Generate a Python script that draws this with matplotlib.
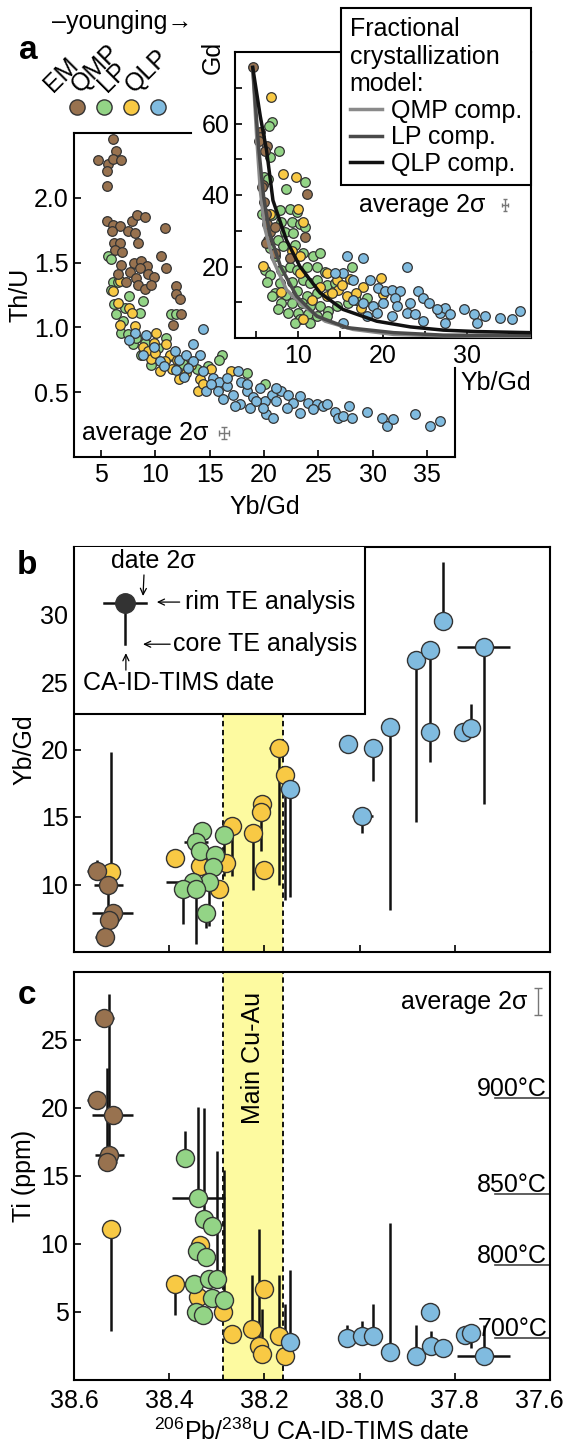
import numpy as np
import matplotlib
matplotlib.use('Agg')
import matplotlib.pyplot as plt
from matplotlib.patches import Rectangle
from matplotlib.transforms import ScaledTranslation

plt.rcParams['font.family'] = ['Liberation Sans', 'DejaVu Sans']
plt.rcParams['mathtext.fontset'] = 'custom'
plt.rcParams['mathtext.rm'] = 'Liberation Sans'
plt.rcParams['font.size'] = 18

colors = {'EM': '#98724f', 'QMP': '#93d486', 'LP': '#f8c944', 'QLP': '#80bbdf'}
groups = ['EM', 'QMP', 'LP', 'QLP']

# ---- panel a, main: (Yb/Gd, Th/U) ----
em_main = [(6.1, 2.45), (6.4, 2.36), (4.7, 2.29), (5.6, 2.26), (6.1, 2.30), (6.85, 2.29), (5.5, 2.21),
           (5.55, 2.09), (5.5, 1.82), (6.1, 1.79), (6.7, 1.78), (6.0, 1.74), (7.45, 1.74), (7.8, 1.82),
           (8.3, 1.87), (9.0, 1.85), (10.85, 1.77), (8.15, 1.73), (6.2, 1.65), (6.7, 1.65), (8.4, 1.65),
           (6.3, 1.60), (6.95, 1.58), (6.85, 1.48), (6.55, 1.41), (8.0, 1.50), (8.7, 1.51), (9.2, 1.47),
           (8.55, 1.46), (7.7, 1.43), (8.25, 1.38), (9.3, 1.41), (9.9, 1.39), (8.4, 1.33), (9.0, 1.30),
           (9.6, 1.33), (10.55, 1.55), (11.0, 1.46), (11.9, 1.32), (11.9, 1.26), (12.3, 1.22),
           (12.4, 1.10), (11.6, 1.02), (7.3, 1.35)]
qmp_main = [(5.6, 1.55), (5.9, 1.53), (6.1, 1.35), (5.9, 1.29), (6.55, 1.35), (7.6, 1.24), (8.85, 1.20),
            (6.4, 1.10), (6.85, 0.96), (8.55, 1.11), (11.4, 1.10), (11.9, 1.10), (7.9, 0.87), (8.7, 0.79),
            (9.6, 0.71), (11.0, 0.92), (16.1, 0.79), (15.9, 0.75), (18.4, 0.65), (20.1, 0.56),
            (14.85, 0.70), (11.3, 0.78), (7.0, 1.05), (7.5, 0.95), (8.2, 0.92), (9.0, 0.88),
            (10.2, 0.84), (12.5, 0.72), (13.8, 0.68), (6.2, 1.18), (7.2, 1.15)]
lp_main = [(6.7, 1.36), (6.1, 1.28), (6.55, 1.19), (7.6, 1.15), (7.8, 1.11), (6.7, 1.02), (8.1, 1.01),
           (10.1, 0.96), (8.85, 0.85), (9.3, 0.82), (11.0, 0.87), (11.3, 0.79), (10.85, 0.74),
           (10.4, 0.66), (12.2, 0.60), (13.3, 0.71), (14.1, 0.60), (13.9, 0.51), (14.4, 0.56),
           (17.0, 0.66), (15.15, 0.68), (12.85, 0.65), (9.6, 0.76), (10.0, 0.80), (12.0, 0.75),
           (11.5, 0.68), (9.9, 0.88)]
qlp_main = [(8.1, 0.96), (9.15, 0.94), (8.85, 0.79), (9.9, 0.85), (10.4, 0.74), (11.8, 0.82), (12.2, 0.75),
            (12.85, 0.79), (13.45, 0.87), (14.1, 0.79), (14.4, 0.99), (13.45, 0.74), (13.0, 0.69),
            (14.4, 0.66), (11.9, 0.67), (15.3, 0.61), (14.7, 0.51), (15.9, 0.58), (16.55, 0.55),
            (17.15, 0.48), (17.6, 0.66), (17.9, 0.58), (18.4, 0.51), (19.0, 0.46), (19.6, 0.53),
            (20.1, 0.43), (20.7, 0.48), (21.15, 0.43), (21.6, 0.51), (22.2, 0.48), (22.7, 0.42),
            (20.2, 0.33), (20.85, 0.30), (19.9, 0.38), (18.7, 0.38), (17.8, 0.41), (17.3, 0.39),
            (23.3, 0.47), (24.1, 0.42), (24.85, 0.41), (25.45, 0.39), (23.3, 0.34), (24.5, 0.37),
            (25.8, 0.41), (26.5, 0.35), (26.85, 0.30), (27.3, 0.32), (27.8, 0.39), (28.1, 0.30),
            (29.5, 0.35), (30.85, 0.30), (31.3, 0.24), (31.9, 0.29), (33.9, 0.33), (35.3, 0.24),
            (36.2, 0.28), (15.8, 0.51), (15.15, 0.56), (16.55, 0.61), (18.4, 0.56), (21.15, 0.53),
            (19.3, 0.43), (22.1, 0.38), (7.6, 0.90), (10.8, 0.70), (12.6, 0.62), (16.2, 0.45)]

# ---- panel a, inset: (Yb/Gd, Gd) ----
em_inset = [(4.6, 75.7), (5.45, 57.5), (5.45, 56.1), (5.4, 55.2), (6.25, 53.8), (6.05, 52.4), (5.85, 42.7),
            (5.65, 42.2), (5.95, 38.1), (6.15, 34.8), (6.25, 32.0), (6.65, 29.7), (6.45, 27.4),
            (6.15, 26.5), (7.2, 31.1), (11.0, 40.4), (10.8, 28.3), (9.0, 22.3), (7.2, 23.7)]
qmp_inset = [(6.85, 60.3), (6.55, 59.4), (6.65, 50.6), (7.75, 52.4), (5.9, 45.0), (5.85, 43.1), (6.45, 44.5),
             (8.6, 41.8), (10.8, 43.6), (5.65, 34.8), (6.85, 34.4), (7.8, 35.7), (9.0, 36.2), (9.8, 35.3),
             (8.0, 32.5), (9.2, 32.5), (10.2, 32.0), (10.8, 31.1), (8.4, 29.7), (9.4, 29.3), (7.6, 27.4),
             (6.65, 25.1), (8.2, 25.6), (9.6, 26.0), (7.2, 22.8), (10.6, 23.7), (11.8, 22.8), (12.6, 23.7),
             (6.05, 19.1), (6.65, 17.7), (8.0, 19.1), (9.0, 20.0), (9.8, 19.1), (11.0, 20.0), (12.2, 20.0),
             (13.2, 18.6), (6.25, 15.8), (7.8, 15.4), (9.2, 15.8), (10.6, 16.3), (11.4, 15.4), (12.2, 16.3),
             (13.4, 14.9), (14.35, 15.4), (7.2, 12.6), (8.6, 12.1), (9.8, 13.1), (11.0, 11.7), (12.2, 12.6),
             (8.0, 9.8), (9.2, 9.8), (10.4, 9.8), (11.4, 8.9), (12.6, 8.9), (13.55, 7.5), (8.8, 7.0),
             (10.0, 7.0), (11.2, 6.6), (12.2, 6.1), (13.4, 6.1), (14.55, 8.9), (15.95, 9.8), (16.9, 10.7),
             (18.1, 11.2), (16.35, 20.0), (7.6, 8.0), (6.85, 11.7), (10.2, 5.2), (11.4, 4.3), (9.6, 4.3)]
lp_inset = [(6.75, 67.4), (8.2, 45.9), (9.7, 45.0), (6.65, 34.8), (10.0, 36.2), (10.6, 32.5), (9.2, 24.2),
            (5.85, 20.2), (10.2, 22.8), (8.0, 12.9), (10.2, 18.1), (13.4, 18.1), (14.55, 16.3),
            (16.15, 16.5), (17.7, 14.4), (19.8, 16.8), (20.1, 12.4), (14.75, 13.5), (15.75, 11.7),
            (17.5, 8.4), (16.9, 12.6), (13.4, 11.7), (11.6, 10.7), (10.6, 5.2), (13.95, 12.6),
            (15.15, 14.9), (12.6, 14.4)]
qlp_inset = [(15.75, 22.8), (17.7, 22.3), (22.9, 20.0), (15.35, 18.1), (16.55, 16.3), (18.5, 16.3),
             (19.5, 14.0), (20.3, 13.1), (21.1, 13.5), (22.1, 13.1), (24.25, 13.1), (24.85, 11.2),
             (25.45, 9.8), (23.3, 9.8), (21.5, 11.2), (20.1, 9.8), (18.9, 8.9), (19.3, 7.0), (21.1, 6.1),
             (22.9, 7.0), (23.85, 6.6), (24.85, 4.7), (26.8, 7.0), (27.4, 8.4), (28.0, 6.6), (29.6, 8.0),
             (30.8, 6.6), (31.2, 4.3), (32.2, 6.1), (33.95, 5.6), (35.35, 5.2), (36.35, 7.5), (27.4, 4.3),
             (15.35, 4.3), (16.55, 10.7), (17.7, 9.8), (14.35, 18.1), (18.1, 6.1), (26.4, 8.0), (21.7, 8.9)]

# fractional crystallization model curves
qmp_curve_x = [4.6, 5.1, 5.5, 6.0, 7.0, 8.6, 10.6, 13.2, 16.5, 21.3, 27.2, 37.5]
qmp_curve_gd = [75.7, 55.2, 41.3, 31.1, 21.9, 13.5, 8.9, 4.7, 2.4, 1.0, 0.6, 0.4]
lp_curve_x = [4.6, 5.3, 5.9, 6.6, 7.9, 9.8, 12.2, 15.8, 21.3, 27.2, 37.5]
lp_curve_gd = [75.7, 53.3, 39.4, 29.3, 20.0, 11.7, 6.1, 2.9, 1.5, 0.8, 0.7]
qlp_curve_x = [4.6, 5.5, 6.25, 7.0, 8.6, 10.2, 12.6, 15.3, 19.3, 23.3, 27.2, 31.2, 37.5]
qlp_curve_gd = [75.7, 62.0, 52.4, 38.5, 27.4, 20.0, 12.6, 8.0, 4.7, 3.1, 2.2, 1.8, 1.5]

# ---- panel b: CA-ID-TIMS date vs Yb/Gd (rim dot, core line end) ----
nan = np.nan
b_date = [38.552, 38.528, 38.519, 38.526, 38.535,
          38.522, 38.388, 38.336, 38.295, 38.281, 38.269, 38.225, 38.204, 38.208, 38.201, 38.170, 38.156,
          38.332, 38.344, 38.335, 38.304, 38.285, 38.307, 38.316, 38.350, 38.370, 38.343, 38.322,
          38.147, 38.024, 37.994, 37.972, 37.937, 37.881, 37.853, 37.853, 37.825, 37.782, 37.766, 37.739]
b_rim = [11.0, 9.95, 7.86, 7.4, 6.08,
         10.9, 12.0, 11.4, 9.7, 11.6, 14.3, 13.8, 16.0, 15.4, 11.05, 20.1, 18.1,
         14.0, 13.15, 12.5, 12.2, 13.65, 11.3, 10.2, 10.2, 9.7, 9.7, 7.9,
         17.1, 20.4, 15.05, 20.1, 21.7, 26.65, 27.4, 21.3, 29.5, 21.3, 21.6, 27.6]
b_core = [11.8, 7.5, nan, nan, nan,
          19.8, nan, nan, nan, nan, 10.6, 9.6, nan, 12.5, nan, 9.95, 8.85,
          nan, nan, nan, nan, 10.6, nan, 6.9, nan, 7.1, 5.6, 6.8,
          9.1, nan, 13.8, 17.7, 8.1, 14.6, 19.1, nan, 33.9, nan, 23.4, 16.0]
b_xerr = [0.02, 0.03, 0.043, 0.02, 0.02,
          0.01, 0.01, 0.01, 0.01, 0.01, 0.01, 0.01, 0.01, 0.01, 0.01, 0.02, 0.01,
          0.01, 0.025, 0.01, 0.01, 0.01, 0.01, 0.01, 0.056, 0.01, 0.01, 0.01,
          0.02, 0.01, 0.023, 0.01, 0.01, 0.01, 0.01, 0.01, 0.01, 0.01, 0.01, 0.056]
b_group = ['EM'] * 5 + ['LP'] * 12 + ['QMP'] * 11 + ['QLP'] * 12

# ---- panel c: CA-ID-TIMS date vs Ti (ppm) ----
c_date = [38.536, 38.552, 38.519, 38.526, 38.530,
          38.522, 38.388, 38.336, 38.339, 38.287, 38.268, 38.226, 38.201, 38.211, 38.206, 38.170, 38.156,
          38.366, 38.339, 38.326, 38.311, 38.341, 38.322, 38.348, 38.316, 38.299, 38.311, 38.285, 38.344,
          38.330,
          38.147, 38.026, 37.996, 37.972, 37.937, 37.882, 37.853, 37.851, 37.825, 37.779, 37.765, 37.739]
c_rim = [26.6, 20.6, 19.5, 16.5, 16.0,
         11.1, 7.05, 9.9, 6.1, 4.95, 3.35, 3.7, 6.7, 2.5, 1.9, 3.2, 1.75,
         16.3, 13.4, 11.8, 11.3, 9.5, 9.05, 7.0, 7.4, 7.4, 6.0, 5.85, 4.95, 4.75,
         2.75, 3.05, 3.2, 3.2, 2.05, 1.75, 5.0, 2.45, 2.3, 3.3, 3.4, 1.75]
c_core = [nan, nan, nan, 28.4, 22.9,
          3.6, 4.75, nan, nan, nan, nan, 7.7, nan, 11.1, 5.2, 7.7, 5.6,
          18.3, 20.1, 20.0, nan, nan, nan, nan, nan, 16.8, nan, 15.4, nan, nan,
          8.1, 4.0, 4.3, 5.6, 11.5, 4.0, nan, 3.55, nan, nan, 2.3, 4.0]
c_xerr = [0.02, 0.02, 0.043, 0.03, 0.02,
          0.01, 0.01, 0.01, 0.01, 0.01, 0.01, 0.01, 0.01, 0.01, 0.01, 0.01, 0.01,
          0.01, 0.056, 0.01, 0.02, 0.01, 0.01, 0.01, 0.01, 0.01, 0.01, 0.01, 0.01, 0.01,
          0.02, 0.01, 0.01, 0.01, 0.01, 0.01, 0.01, 0.01, 0.01, 0.01, 0.01, 0.056]
c_group = ['EM'] * 5 + ['LP'] * 12 + ['QMP'] * 13 + ['QLP'] * 12

band = (38.286, 38.160)
temp_labels = ['900°C', '850°C', '800°C', '700°C']
temp_ti = [20.7, 13.65, 8.4, 3.05]

W, H = 569, 1450
fig = plt.figure(figsize=(W / 100, H / 100), dpi=100)


def box(l, t, r, b):
    return [l / W, 1 - b / H, (r - l) / W, (b - t) / H]


def style(ax):
    ax.tick_params(direction='in', length=5, width=1.2, labelsize=18, pad=4)
    for s in ax.spines.values():
        s.set_linewidth(1.5)


sc_kw = dict(s=48, edgecolors='#333333', linewidths=0.9)

# ---------- panel a main ----------
ax_a = fig.add_axes(box(74, 133, 455, 457))
style(ax_a)
for g, pts in [('QMP', qmp_main), ('LP', lp_main), ('QLP', qlp_main), ('EM', em_main)]:
    p = np.array(pts)
    ax_a.scatter(p[:, 0], p[:, 1], color=colors[g], zorder=3, **sc_kw)
ax_a.set_xlim(2.5, 37.6)
ax_a.set_ylim(0, 2.5)
ax_a.set_xticks([5, 10, 15, 20, 25, 30, 35])
ax_a.set_yticks([0.5, 1.0, 1.5, 2.0])
ax_a.set_xlabel('Yb/Gd', fontsize=18, labelpad=6)
ax_a.set_ylabel('Th/U', fontsize=18, labelpad=1)
ax_a.spines['top'].set_bounds(2.5, 13.3)
ax_a.spines['right'].set_bounds(0, 0.69)
ax_a.text(0.02, 0.074, 'average 2σ', transform=ax_a.transAxes, fontsize=18, va='center')
ax_a.errorbar(16.3, 0.185, xerr=0.45, yerr=0.045, color='#777777', lw=1, capsize=2)

# ---------- panel a inset ----------
ax_i = fig.add_axes(box(235, 52, 531, 338), zorder=3)
ax_i.set_facecolor('white')
style(ax_i)
for g, pts in [('QMP', qmp_inset), ('LP', lp_inset), ('QLP', qlp_inset), ('EM', em_inset)]:
    p = np.array(pts)
    ax_i.scatter(p[:, 0], p[:, 1], color=colors[g], zorder=3, **sc_kw)
l1, = ax_i.plot(qmp_curve_x, qmp_curve_gd, color='#8a8a8a', lw=2.5, zorder=4)
l2, = ax_i.plot(lp_curve_x, lp_curve_gd, color='#4a4a4a', lw=2.5, zorder=4)
l3, = ax_i.plot(qlp_curve_x, qlp_curve_gd, color='#111111', lw=2.5, zorder=4)
ax_i.set_xlim(2.5, 37.6)
ax_i.set_ylim(0, 80)
ax_i.set_xticks(range(5, 40, 5))
ax_i.set_xticklabels(['', '10', '', '20', '', '30', ''])
ax_i.set_yticks(range(10, 80, 10))
ax_i.set_yticklabels(['', '20', '', '40', '', '60', ''])
ax_i.text(1.0, -0.157, 'Yb/Gd', transform=ax_i.transAxes, ha='right', va='center', fontsize=18)
ax_i.text(0.42, 0.465, 'average 2σ', transform=ax_i.transAxes, va='center', fontsize=18)
ax_i.errorbar(34.5, 37.2, xerr=0.35, yerr=1.6, color='#777777', lw=1, capsize=1.5)
leg = ax_i.legend([l1, l2, l3], ['QMP comp.', 'LP comp.', 'QLP comp.'],
                  title='Fractional\ncrystallization\nmodel:', alignment='left',
                  loc='upper right', bbox_to_anchor=(531 / W, 1 - 8 / H), bbox_transform=fig.transFigure,
                  fontsize=18, title_fontsize=18, frameon=True, fancybox=False, framealpha=1,
                  edgecolor='black', handlelength=1.3, handletextpad=0.35, borderpad=0.35,
                  labelspacing=0.1, borderaxespad=0)
leg.get_frame().set_linewidth(1.5)
leg.set_zorder(10)
fig.text(213 / W, 1 - 57 / H, 'Gd', rotation=90, ha='center', va='center', fontsize=18)

# group key with rotated labels
key = fig.add_axes([0, 0, 1, 1], zorder=5)
key.set_xlim(0, W)
key.set_ylim(H, 0)
key.axis('off')
for i, g in enumerate(groups):
    cx = 77 + i * 27
    key.scatter([cx], [107], s=120, color=colors[g], edgecolors='#333333', linewidths=1)
    key.text(cx - 20, 97, g, rotation=45, rotation_mode='anchor', ha='left', va='bottom', fontsize=18)
key.text(122, 22, '–younging→', ha='center', va='center', fontsize=18)
key.text(28, 50, 'a', ha='center', va='center', fontsize=24, fontweight='bold')
key.text(27, 565, 'b', ha='center', va='center', fontsize=24, fontweight='bold')
key.text(27, 995, 'c', ha='center', va='center', fontsize=24, fontweight='bold')


def draw_dates(ax, date, rim, core, xerr, grp):
    date, rim, core, xerr, grp = map(np.array, (date, rim, core, xerr, grp))
    ok = ~np.isnan(core)
    ax.vlines(date[ok], rim[ok], core[ok], color='#111111', lw=1.8, zorder=2)
    for g in ['LP', 'QMP', 'EM', 'QLP']:
        m = grp == g
        ax.errorbar(date[m], rim[m], xerr=xerr[m], fmt='o', ms=13, mfc=colors[g], mec='#333333', mew=1,
                    ecolor='#111111', elinewidth=1.8, capsize=0, zorder=3)


def date_axes(ax):
    style(ax)
    ax.set_xlim(38.6, 37.6)
    ax.set_xticks([38.6, 38.4, 38.2, 38.0, 37.8, 37.6])
    ax.axvspan(band[0], band[1], color='#fdfaa0', zorder=0, lw=0)
    for xv in band:
        ax.axvline(xv, color='k', ls=(0, (3, 2)), lw=1.3, zorder=1)


# ---------- panel b ----------
ax_b = fig.add_axes(box(74, 547, 550, 952))
date_axes(ax_b)
draw_dates(ax_b, b_date, b_rim, b_core, b_xerr, b_group)
ax_b.set_ylim(5, 35)
ax_b.set_yticks([10, 15, 20, 25, 30])
ax_b.set_xticklabels([])
ax_b.set_ylabel('Yb/Gd', fontsize=18, labelpad=3)
T = ax_b.transAxes
ax_b.add_patch(Rectangle((0, 0.588), 0.611, 0.42, transform=T, fc='white', ec='black', lw=1.5, zorder=5))
ax_b.plot([0.063, 0.151], [0.862, 0.862], color='#111111', lw=1.8, transform=T, zorder=6)
ax_b.plot([0.107, 0.107], [0.862, 0.760], color='#111111', lw=1.8, transform=T, zorder=6)
ax_b.plot([0.107], [0.862], 'o', ms=14, color='#333333', transform=T, zorder=7)
ax_b.text(0.166, 0.965, 'date 2σ', transform=T, ha='center', va='center', fontsize=18, zorder=7)
arr = dict(arrowstyle='->,head_length=0.25,head_width=0.12', lw=0.9, color='black', shrinkA=0, shrinkB=0)
ax_b.annotate('', xy=(0.145, 0.879), xytext=(0.147, 0.931), xycoords=T, arrowprops=arr, zorder=7)
ax_b.annotate('', xy=(0.174, 0.864), xytext=(0.222, 0.864), xycoords=T, arrowprops=arr, zorder=7)
ax_b.text(0.233, 0.864, 'rim TE analysis', transform=T, va='center', fontsize=18, zorder=7)
ax_b.annotate('', xy=(0.145, 0.760), xytext=(0.202, 0.760), xycoords=T, arrowprops=arr, zorder=7)
ax_b.text(0.208, 0.760, 'core TE analysis', transform=T, va='center', fontsize=18, zorder=7)
ax_b.annotate('', xy=(0.109, 0.738), xytext=(0.109, 0.696), xycoords=T, arrowprops=arr, zorder=7)
ax_b.text(0.019, 0.664, 'CA-ID-TIMS date', transform=T, va='center', fontsize=18, zorder=7)

# ---------- panel c ----------
ax_c = fig.add_axes(box(74, 972, 550, 1379.6))
date_axes(ax_c)
draw_dates(ax_c, c_date, c_rim, c_core, c_xerr, c_group)
ax_c.set_ylim(0, 30)
ax_c.set_yticks([5, 10, 15, 20, 25])
ax_c.set_xticklabels(['38.6', '38.4', '38.2', '38.0', '37.8', '37.6'])
ax_c.tick_params(axis='x', pad=7)
last = ax_c.get_xticklabels()[-1]
last.set_transform(last.get_transform() + ScaledTranslation(-11 / 100, 0, fig.dpi_scale_trans))
ax_c.set_ylabel('Ti (ppm)', fontsize=18, labelpad=3)
ax_c.set_xlabel(r'$^{206}$Pb/$^{238}$U CA-ID-TIMS date', fontsize=18, labelpad=4)
ax_c.text(np.mean(band), 23.7, 'Main Cu-Au', rotation=90, ha='center', va='center', fontsize=18, zorder=4)
for lab, tv in zip(temp_labels, temp_ti):
    ax_c.axhline(tv, xmin=0.884, xmax=1.0, color='#444444', lw=1.2, zorder=1)
    ax_c.text(0.994, tv + 0.15, lab, transform=ax_c.get_yaxis_transform(), ha='right', va='baseline',
              fontsize=18, zorder=5)
ax_c.text(0.952, 0.926, 'average 2σ', transform=ax_c.transAxes, ha='right', va='center', fontsize=18)
ax_c.errorbar(37.625, 27.8, yerr=1.0, color='#777777', lw=1, capsize=3)

fig.savefig('out.png', dpi=100)
